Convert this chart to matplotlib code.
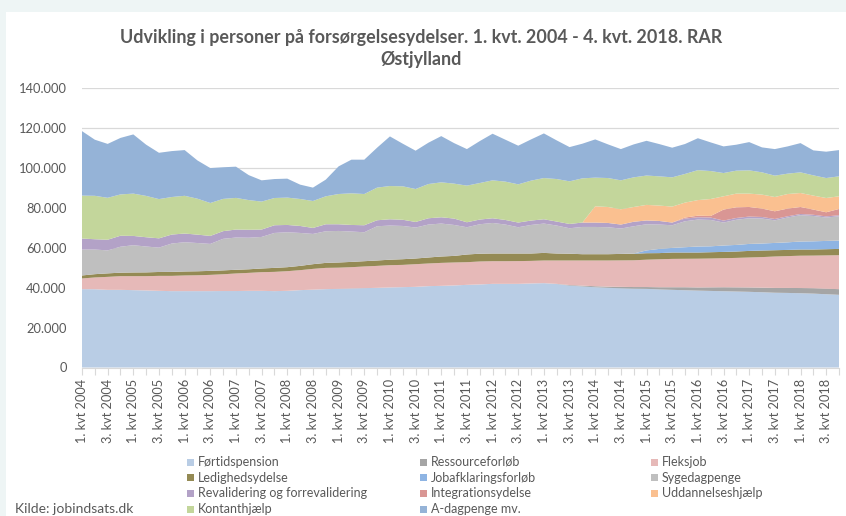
import matplotlib
matplotlib.use('Agg')
import matplotlib.pyplot as plt
from matplotlib.patches import Rectangle
from matplotlib.ticker import FuncFormatter

years = list(range(2004, 2019))
quarters = [f"{q}. kvt {y}" for y in years for q in range(1, 5)]

names = ["Førtidspension", "Ressourceforløb", "Fleksjob",
         "Ledighedsydelse", "Jobafklaringsforløb", "Sygedagpenge",
         "Revalidering og forrevalidering", "Integrationsydelse", "Uddannelseshjælp",
         "Kontanthjælp", "A-dagpenge mv."]

fortid = [39250, 39200, 38900, 38900, 38750, 38600, 38400, 38250, 38250, 38250, 38250, 38300, 38300, 38400, 38400,
          38250, 38400, 38750, 39000, 39250, 39400, 39600, 39750, 39900, 40100, 40250, 40400, 40750, 40900, 41100,
          41400, 41600, 41900, 41900, 41900, 42100, 42250, 41800, 41000, 40600, 40200, 39900, 39700, 39500, 39400,
          39100, 38900, 38700, 38500, 38350, 38200, 38050, 37900, 37700, 37450, 37350, 37200, 37000, 36700, 36400]
ressource = [0, 0, 0, 0, 0, 0, 0, 0, 0, 0, 0, 0, 0, 0, 0,
             0, 0, 0, 0, 0, 0, 0, 0, 0, 0, 0, 0, 0, 0, 0,
             0, 0, 0, 0, 0, 0, 0, 100, 300, 400, 500, 600, 700, 800, 900,
             1100, 1300, 1500, 1600, 1800, 2000, 2100, 2200, 2300, 2400, 2500, 2600, 2700, 2750, 2850]
fleks = [5350, 5900, 6500, 6850, 7000, 7150, 7500, 7650, 7850, 7950, 8150, 8400, 8800, 9000, 9350,
         9650, 9850, 10000, 10400, 10650, 10600, 10650, 10850, 11000, 11150, 11150, 11350, 11350, 11500, 11500,
         11350, 11500, 11350, 11350, 11400, 11300, 11350, 11700, 12300, 12600, 12900, 13100, 13250, 13400, 13700,
         14000, 14200, 14250, 14400, 14450, 14550, 14750, 15000, 15300, 15750, 15950, 16200, 16350, 16700, 17000]
ledig = [1500, 1650, 1750, 1750, 1850, 1900, 1950, 2000, 2000, 2000, 2000, 1950, 1850, 1800, 1850,
         2000, 2000, 2150, 2350, 2500, 2600, 2650, 2650, 2700, 2750, 2850, 2850, 3000, 3200, 3300,
         3850, 3900, 3850, 3850, 3800, 3700, 3800, 3500, 3400, 3150, 3150, 3150, 3250, 3300, 3250,
         3100, 3200, 3150, 3100, 3150, 3150, 3200, 3300, 3300, 3150, 3100, 3100, 3050, 3100, 3150]
jobafk = [0, 0, 0, 0, 0, 0, 0, 0, 0, 0, 0, 0, 0, 0, 0,
          0, 0, 0, 0, 0, 0, 0, 0, 0, 0, 0, 0, 0, 0, 0,
          0, 0, 0, 0, 0, 0, 0, 0, 0, 0, 0, 0, 0, 100, 1400,
          2100, 2300, 2650, 3000, 2950, 3200, 3300, 3500, 3500, 3650, 3800, 4000, 4100, 4150, 4200]
syge = [13000, 12350, 11500, 13000, 13650, 12950, 12200, 14200, 14650, 14150, 13500, 15800, 16150, 15800, 15800,
        17500, 17500, 16500, 15150, 15850, 15800, 15200, 14500, 17150, 17100, 16650, 15500, 16500, 16500, 15500,
        13650, 14750, 15300, 14500, 13150, 14300, 14700, 14000, 12750, 13650, 13650, 13500, 12700, 13650, 13100,
        12200, 11350, 13000, 13500, 13200, 11500, 12600, 12850, 12500, 11300, 12450, 13200, 12700, 11700, 12150]
reval = [5500, 5150, 5350, 5500, 4650, 4650, 4650, 4500, 4350, 4200, 4000, 3850, 4000, 4000, 3700,
         3850, 3650, 3500, 3000, 3500, 3350, 3300, 3500, 3000, 3150, 3100, 2800, 3150, 3150, 3200,
         2500, 2350, 2350, 2300, 2350, 2200, 2150, 2000, 2150, 2200, 2200, 2150, 2000, 2250, 1900,
         1800, 1350, 1350, 1150, 1200, 1000, 900, 850, 800, 700, 600, 600, 600, 600, 500]
integ = [0, 0, 0, 0, 0, 0, 0, 0, 0, 0, 0, 0, 0, 0, 0,
         0, 0, 0, 0, 0, 0, 0, 0, 0, 0, 0, 0, 0, 0, 0,
         0, 0, 0, 0, 0, 0, 0, 0, 0, 0, 0, 0, 0, 0, 0,
         0, 0, 500, 800, 800, 5500, 5350, 4800, 4200, 3850, 3850, 3500, 2600, 2050, 3150]
udd = [0, 0, 0, 0, 0, 0, 0, 0, 0, 0, 0, 0, 0, 0, 0,
       0, 0, 0, 0, 0, 0, 0, 0, 0, 0, 0, 0, 0, 0, 0,
       0, 0, 0, 0, 0, 0, 0, 0, 0, 0, 8150, 8000, 7650, 7400, 7800,
       7700, 8000, 7500, 7800, 8500, 6650, 6850, 6700, 7000, 7150, 7300, 7000, 7000, 7150, 6350]
kontant = [21500, 21750, 21000, 20700, 21200, 20700, 19650, 18800, 18900, 18000, 16500, 16150, 15850, 14850, 14000,
           13650, 13700, 13500, 13500, 14000, 15150, 15850, 15650, 16350, 16650, 16750, 16500, 17150, 17500, 17500,
           18350, 18300, 19000, 19200, 19150, 20000, 20650, 21300, 21350, 22150, 14350, 14500, 14500, 14850, 14700,
           14650, 14650, 14350, 15000, 14000, 11650, 11500, 11650, 11150, 10700, 10200, 10350, 10150, 10000, 10000]
adagp = [32300, 28100, 27000, 28300, 29650, 25650, 23200, 23000, 22900, 19150, 17500, 15850, 15650, 12500, 10650,
         9500, 9500, 7200, 6700, 8350, 13850, 16850, 17200, 20000, 24850, 21350, 19200, 20700, 23150, 20300,
         18300, 21000, 23350, 21000, 19350, 20650, 22350, 19350, 17150, 17350, 19150, 16850, 15650, 16500, 17400,
         16150, 14850, 15000, 16000, 14350, 13350, 13000, 14150, 12500, 13300, 13650, 14650, 12500, 13200, 13150]

series = [fortid, ressource, fleks, ledig, jobafk, syge, reval, integ, udd, kontant, adagp]
colors = ["#b9cde5", "#a5a5a5", "#e6b9b8", "#948a54", "#8eb4e3", "#bfbfbf",
          "#b3a2c7", "#d99694", "#fac090", "#c3d69b", "#95b3d7"]

FONT = "Lato"
TXT = "#595959"
W, H = 846, 516

fig = plt.figure(figsize=(W / 100, H / 100), dpi=100, facecolor="#eef5f5")
fig.patches.append(Rectangle((6 / W, 0), 1, 1 - 12 / H, transform=fig.transFigure,
                             facecolor="white", edgecolor="none", zorder=-5))

ax = fig.add_axes([82 / W, 1 - 367.5 / H, (839 - 82) / W, (367.5 - 88) / H])
ax.set_zorder(2)
ax.set_facecolor("none")
x = list(range(len(quarters)))
ax.stackplot(x, *series, colors=colors, linewidth=0, zorder=2)

ax.set_xlim(0, len(quarters) - 1)
ax.set_ylim(0, 140000)
ax.set_yticks(range(0, 140001, 20000))
ax.yaxis.set_major_formatter(FuncFormatter(lambda v, p: f"{int(v):,}".replace(",", ".")))
ax.grid(axis="y", color="#d9d9d9", linewidth=0.9, zorder=0)
ax.set_axisbelow(True)

ax.set_xticks(x)
ax.set_xticklabels([q if i % 2 == 0 else "" for i, q in enumerate(quarters)],
                   rotation=90, fontsize=9.2, color=TXT, family=FONT)
ax.tick_params(axis="x", length=5, color="#d9d9d9", pad=3)
ax.tick_params(axis="y", length=0, pad=11, labelsize=9.3, labelcolor=TXT)
for lbl in ax.get_yticklabels():
    lbl.set_family(FONT)
for s in ["top", "right", "left"]:
    ax.spines[s].set_visible(False)
ax.spines["bottom"].set_color("#d9d9d9")

fig.text(421 / W, 1 - 37 / H, "Udvikling i personer på forsørgelsesydelser. 1. kvt. 2004 - 4. kvt. 2018. RAR",
         ha="center", va="center", fontsize=12.9, fontweight="bold", color=TXT, family=FONT)
fig.text(421 / W, 1 - 60 / H, "Østjylland",
         ha="center", va="center", fontsize=12.9, fontweight="bold", color=TXT, family=FONT)

col_x = [187, 420, 651]
row_y = [462, 477.5, 493, 509]
for k, (name, c) in enumerate(zip(names, colors)):
    r, cc = divmod(k, 3)
    mx, my = col_x[cc], row_y[r]
    fig.patches.append(Rectangle((mx / W, 1 - (my + 3.5) / H), 7 / W, 7 / H,
                                 transform=fig.transFigure, facecolor=c, edgecolor="none"))
    fig.text((mx + 11) / W, 1 - my / H, name, ha="left", va="center",
             fontsize=9, color=TXT, family=FONT)

fig.text(15 / W, 1 - 509 / H, "Kilde: jobindsats.dk", ha="left", va="center",
         fontsize=10, color=TXT, family=FONT)

fig.savefig("out.png", dpi=100, facecolor=fig.get_facecolor())
